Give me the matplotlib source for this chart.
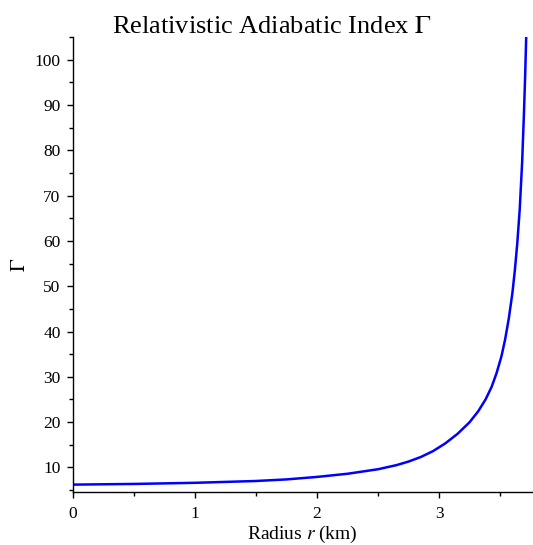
import matplotlib.pyplot as plt
from matplotlib.ticker import MultipleLocator

plt.rcParams['font.family'] = ['Liberation Serif', 'DejaVu Serif']
plt.rcParams['mathtext.fontset'] = 'stix'

# values
radius = [0.0, 0.5, 1.0, 1.5, 1.75, 2.0, 2.25, 2.5, 2.65, 2.75, 2.85, 2.95,
          3.05, 3.15, 3.25, 3.32, 3.38, 3.43, 3.47, 3.51, 3.54, 3.57, 3.60,
          3.62, 3.64, 3.66, 3.68, 3.695, 3.705, 3.713]
gamma = [6.2, 6.35, 6.6, 7.0, 7.35, 7.9, 8.6, 9.6, 10.5, 11.3, 12.3, 13.6,
         15.3, 17.4, 20.0, 22.4, 25.0, 27.8, 30.8, 34.5, 38.2, 42.8, 48.5,
         53.5, 59.5, 67.0, 77.5, 88.5, 97.0, 105.0]

fig = plt.figure(figsize=(5.33, 5.45), dpi=100)
ax = fig.add_axes([0.137, 0.097, 0.861, 0.835])

ax.plot(radius, gamma, color='#0000ff', lw=1.8)

ax.set_xlim(0, 3.76)
ax.set_ylim(4.54, 105)
ax.xaxis.set_major_locator(MultipleLocator(1))
ax.xaxis.set_minor_locator(MultipleLocator(0.5))
ax.yaxis.set_major_locator(MultipleLocator(10))
ax.yaxis.set_minor_locator(MultipleLocator(5))

for s in ['top', 'right']:
    ax.spines[s].set_visible(False)
for s in ['left', 'bottom']:
    ax.spines[s].set_linewidth(1.0)

ax.tick_params(which='major', length=4, width=1, labelsize=12.5, direction='out')
ax.tick_params(axis='x', which='major', pad=6)
ax.tick_params(axis='y', which='major', pad=5)
ax.tick_params(which='minor', length=3, width=1, direction='out')

ax.set_xlabel('Radius $r$ (km)', fontsize=14, labelpad=1)
ax.set_ylabel(r'$\Gamma$', fontsize=15)
ax.yaxis.set_label_coords(-0.093, 0.5)
fig.text(0.51, 0.939, r'Relativistic Adiabatic Index $\Gamma$', ha='center',
         va='baseline', fontsize=19)

fig.savefig('out.png', dpi=100)
